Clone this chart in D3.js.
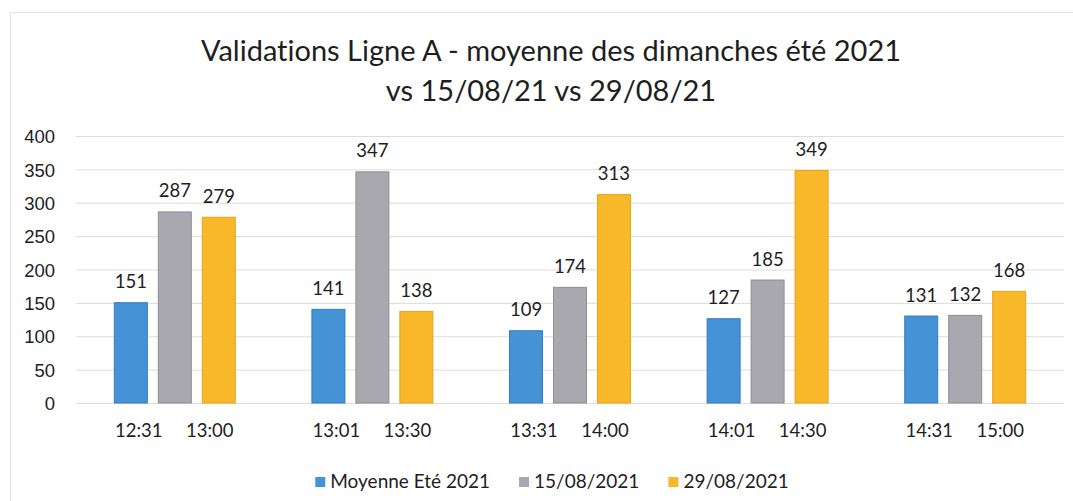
<!DOCTYPE html>
<html>
<head>
<meta charset="utf-8">
<script src="https://cdn.jsdelivr.net/npm/d3@7"></script>
<style>
  body { margin: 0; background: #fff; }
  svg { display: block; font-family: Lato, "Open Sans", sans-serif; font-variant-ligatures: none; }
  .grid line { stroke: #dcdcdc; }
  .grid .domain { display: none; }
  .y.axis .domain, .y.axis line { display: none; }
  .y.axis text { font-size: 18.5px; fill: #1e1e1e; }
</style>
</head>
<body>
<div id="chart"></div>
<script>
// Data
const startLabels = ['12:31', '13:01', '13:31', '14:01', '14:31'];
const endLabels = ['13:00', '13:30', '14:00', '14:30', '15:00'];
const seriesNames = ['Moyenne Eté 2021', '15/08/2021', '29/08/2021'];
const moyenneEte = [151, 141, 109, 127, 131];
const aout15 = [287, 347, 174, 185, 132];
const aout29 = [279, 138, 313, 349, 168];
const yTicks = [0, 50, 100, 150, 200, 250, 300, 350, 400];

const colors = ['#4592d6', '#a9a8ae', '#f9b82a'];
const strokes = ['#2f7cc2', '#8f8e95', '#e9a315'];

const width = 1073, height = 501;
const margin = { top: 136, right: 9, bottom: 98, left: 76 };

const svg = d3.select('#chart').append('svg')
  .attr('width', width)
  .attr('height', height);

// Faint chart border (left/top visible in the photo)
svg.append('rect')
  .attr('x', 10.5).attr('y', 12.5)
  .attr('width', width + 20).attr('height', height + 20)
  .attr('fill', 'none')
  .attr('stroke', '#e4e4e4');

// Title
const title = svg.append('text')
  .attr('text-anchor', 'middle')
  .attr('fill', '#1e1e1e')
  .style('font-size', '29px');
title.append('tspan').attr('x', 551).attr('y', 61)
  .text('Validations Ligne A - moyenne des dimanches été 2021');
title.append('tspan').attr('x', 551).attr('y', 101)
  .text('vs 15/08/21 vs 29/08/21');

// Build rows for the grouped bars
const rows = startLabels.map((d, i) => ({
  key: d,
  end: endLabels[i],
  values: [moyenneEte[i], aout15[i], aout29[i]]
}));

const chartWidth = width - margin.left - margin.right;
const chartHeight = height - margin.top - margin.bottom;

const chart = svg.append('g')
  .attr('transform', `translate(${margin.left},${margin.top})`);

const x0 = d3.scaleBand()
  .domain(startLabels)
  .range([0, chartWidth]);

const x1 = d3.scaleBand()
  .domain(seriesNames)
  .range([0, x0.bandwidth()])
  .paddingInner(0.227)
  .paddingOuter(0.86);

const y = d3.scaleLinear()
  .domain([0, 400])
  .range([chartHeight, 0]);

// Gridlines
chart.append('g')
  .attr('class', 'grid')
  .call(d3.axisLeft(y).tickValues(yTicks).tickSize(-chartWidth).tickFormat(''));

// Y axis labels
chart.append('g')
  .attr('class', 'y axis')
  .attr('transform', 'translate(-21,0)')
  .call(d3.axisLeft(y).tickValues(yTicks).tickSize(0).tickPadding(0))
  .selectAll('text').attr('dy', '0.36em');

// Bars
const groups = chart.selectAll('.group')
  .data(rows)
  .join('g')
  .attr('class', 'group')
  .attr('transform', (d) => `translate(${x0(d.key)},0)`);

groups.selectAll('rect')
  .data((d) => d.values.map((v, j) => ({ series: seriesNames[j], value: v, j: j })))
  .join('rect')
  .attr('x', (d) => x1(d.series) + 0.5)
  .attr('y', (d) => y(d.value) + 0.5)
  .attr('width', x1.bandwidth() - 1)
  .attr('height', (d) => y(0) - y(d.value) - 0.5)
  .attr('fill', (d) => colors[d.j])
  .attr('stroke', (d) => strokes[d.j]);

// Value labels
groups.selectAll('.value')
  .data((d) => d.values.map((v, j) => ({ series: seriesNames[j], value: v })))
  .join('text')
  .attr('class', 'value')
  .attr('x', (d) => x1(d.series) + x1.bandwidth() / 2)
  .attr('y', (d) => y(d.value) - 14)
  .attr('text-anchor', 'middle')
  .attr('fill', '#1e1e1e')
  .style('font-size', '18.5px')
  .text((d) => d.value);

// Category labels (start and end of each half hour)
groups.append('text')
  .attr('x', x0.bandwidth() / 2 - 36)
  .attr('y', chartHeight + 34)
  .attr('text-anchor', 'middle')
  .attr('fill', '#1e1e1e')
  .style('font-size', '18.5px')
  .text((d) => d.key);

groups.append('text')
  .attr('x', x0.bandwidth() / 2 + 35)
  .attr('y', chartHeight + 34)
  .attr('text-anchor', 'middle')
  .attr('fill', '#1e1e1e')
  .style('font-size', '18.5px')
  .text((d) => d.end);

// Legend, centred under the plot
const legend = svg.append('g')
  .attr('transform', 'translate(0,477)');

const items = legend.selectAll('g')
  .data(seriesNames)
  .join('g');

items.append('rect')
  .attr('width', 10).attr('height', 10)
  .attr('fill', (d, i) => colors[i]);

items.append('text')
  .attr('x', 15)
  .attr('y', 11)
  .attr('fill', '#1e1e1e')
  .style('font-size', '19px')
  .text((d) => d);

let cursor = 0;
const offsets = [];
items.each(function() {
  offsets.push(cursor);
  const w = 15 + d3.select(this).select('text').node().getComputedTextLength();
  cursor += w + 29;
});
const totalWidth = cursor - 29;
const startX = 552 - totalWidth / 2;
items.attr('transform', (d, i) => `translate(${startX + offsets[i]},0)`);
</script>
</body>
</html>
